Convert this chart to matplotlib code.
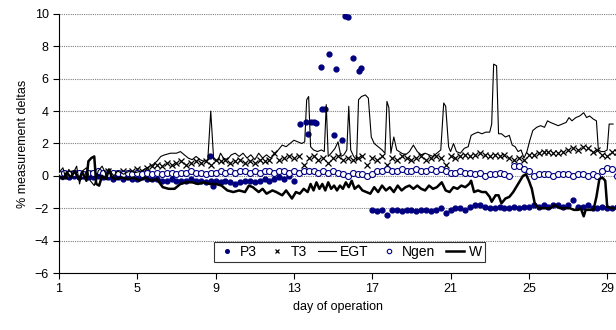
import matplotlib
matplotlib.use("Agg")
import matplotlib.pyplot as plt
import numpy as np

plt.rcParams['font.family'] = ['Liberation Sans', 'DejaVu Sans']

# regular day grid for the marker series (every quarter day)
days_q = np.arange(1, 29.51, 0.25)

t3 = [0.1, 0.0, 0.2, 0.1, 0.2, 0.0, 0.1, 0.2, 0.1, 0.2, 0.3, 0.1, 0.2, 0.3, 0.2, 0.3,
      0.4, 0.3, 0.5, 0.6, 0.7, 0.6, 0.8, 0.7, 0.8, 0.9, 0.7, 0.8, 0.9, 0.8, 0.9, 0.7,
      1.0, 0.9, 1.0, 0.8, 0.9, 1.0, 0.8, 0.9, 0.8, 1.0, 0.9, 1.0, 1.4, 1.0, 1.1, 1.2,
      1.1, 1.2, 0.7, 1.1, 1.2, 1.0, 1.1, 0.8, 1.1, 1.2, 1.0, 1.1, 1.0, 1.1, 1.2, 0.7,
      1.1, 1.0, 1.2, 0.7, 1.1, 1.0, 1.2, 1.1, 1.0, 1.1, 1.2, 1.0, 1.1, 1.2, 1.1, 0.7,
      1.2, 1.1, 1.2, 1.3, 1.2, 1.3, 1.4, 1.3, 1.2, 1.3, 1.2, 1.3, 1.1, 1.0, 1.1, 1.0,
      1.3, 1.3, 1.4, 1.5, 1.5, 1.4, 1.4, 1.5, 1.6, 1.7, 1.6, 1.8, 1.7, 1.5, 1.6, 1.3,
      1.2, 1.5, 1.5]

ngen = [0.1, 0.2, 0.1, 0.2, 0.2, 0.1, 0.2, 0.2, 0.3, 0.2, 0.1, 0.2, 0.2, 0.1, 0.2, 0.1,
        0.2, 0.1, 0.2, 0.1, 0.2, 0.1, 0.2, 0.2, 0.1, 0.2, 0.2, 0.3, 0.2, 0.2, 0.1, 0.2,
        0.2, 0.3, 0.2, 0.3, 0.2, 0.3, 0.3, 0.2, 0.3, 0.2, 0.3, 0.3, 0.2, 0.3, 0.3, 0.2,
        0.3, 0.2, 0.3, 0.3, 0.3, 0.2, 0.3, 0.2, 0.3, 0.2, 0.1, 0.0, 0.2, 0.1, 0.1, 0.0,
        0.1, 0.3, 0.3, 0.4, 0.3, 0.3, 0.4, 0.3, 0.3, 0.4, 0.3, 0.3, 0.4, 0.3, 0.4, 0.3,
        0.2, 0.2, 0.3, 0.2, 0.2, 0.1, 0.2, 0.0, 0.1, 0.1, 0.2, 0.1, 0.0, 0.6, 0.6, 0.4,
        0.3, 0.0, 0.1, 0.1, 0.1, 0.0, 0.1, 0.1, 0.1, 0.0, 0.1, 0.1, 0.0, 0.1, 0.0, 0.3,
        0.5, 0.4, 0.0]

# P3: early part (day 1-13), scattered high values, late part (day 17-29.5)
p3_early = [0.0, 0.0, -0.1, 0.0, -0.1, 0.0, -0.1, -0.1, 0.0, -0.1, -0.1, -0.2, -0.1, -0.2, -0.1, -0.2,
            -0.2, -0.1, -0.2, -0.2, -0.2, -0.3, -0.3, -0.2, -0.3, -0.3, -0.3, -0.2, -0.3, -0.3, -0.4, -0.3,
            -0.3, -0.4, -0.3, -0.4, -0.5, -0.4, -0.3, -0.3, -0.4, -0.3, -0.2, -0.3, -0.2, -0.1, -0.2, 0.0, -0.3]
p3_mid_x = [8.7, 8.85, 13.3, 13.6, 13.7, 13.85, 14.0, 14.15, 14.45, 14.6, 14.4, 14.8, 15.05,
            15.15, 15.45, 15.6, 15.75, 16.0, 16.3, 16.4]
p3_mid_y = [1.2, -0.6, 3.2, 3.3, 2.6, 3.3, 3.35, 3.25, 4.1, 4.1, 6.7, 7.5, 2.5,
            6.6, 2.2, 9.9, 9.8, 7.3, 6.5, 6.65]
p3_late = [-2.1, -2.2, -2.1, -2.4, -2.1, -2.1, -2.2, -2.1, -2.1, -2.2, -2.1, -2.1, -2.2, -2.1, -2.0, -2.3,
           -2.1, -2.0, -2.0, -2.1, -1.9, -1.8, -1.8, -1.9, -2.0, -2.0, -1.9, -2.0, -2.0, -1.9, -2.0, -1.9,
           -1.9, -1.8, -1.9, -1.8, -1.9, -1.8, -1.8, -1.9, -1.8, -1.5, -1.9, -1.9, -1.8, -2.0, -2.0, -1.9,
           -2.0, -2.0, -1.9]

egt_x = [1.0, 1.2, 1.35, 1.5, 1.7, 1.9, 2.05, 2.2, 2.4, 2.6, 2.8, 3.0, 3.2, 3.4, 3.6, 3.8, 4.0, 4.3,
         4.6, 4.9, 5.2, 5.5, 5.8, 6.0, 6.2, 6.4, 6.7, 7.0, 7.2, 7.4, 7.6, 7.8, 8.0, 8.2, 8.4, 8.6,
         8.75, 8.9, 9.1, 9.25, 9.4, 9.6, 9.8, 10.0, 10.2, 10.4, 10.6, 10.8, 11.0, 11.2, 11.4, 11.6,
         11.8, 12.0, 12.2, 12.4, 12.6, 12.8, 13.0, 13.2, 13.4, 13.55, 13.65, 13.75, 13.85, 14.0,
         14.2, 14.4, 14.55, 14.65, 14.75, 14.9, 15.1, 15.25, 15.4, 15.55, 15.7, 15.8, 15.9, 16.05,
         16.2, 16.3, 16.45, 16.65, 16.8, 16.95, 17.1, 17.3, 17.5, 17.65, 17.75, 17.85, 17.95, 18.1,
         18.25, 18.5, 18.7, 18.9, 19.1, 19.3, 19.5, 19.7, 19.9, 20.1, 20.3, 20.5, 20.65, 20.75,
         20.9, 21.0, 21.15, 21.3, 21.5, 21.7, 21.9, 22.05, 22.2, 22.4, 22.6, 22.8, 23.0, 23.1,
         23.2, 23.35, 23.45, 23.6, 23.8, 24.0, 24.15, 24.3, 24.45, 24.6, 24.75, 24.9, 25.05, 25.2,
         25.4, 25.6, 25.8, 25.95, 26.1, 26.3, 26.5, 26.7, 26.9, 27.05, 27.2, 27.4, 27.6, 27.8,
         27.95, 28.1, 28.3, 28.45, 28.55, 28.7, 28.85, 29.0, 29.1, 29.3]
egt_y = [0.2, 0.5, -0.2, 0.4, 0.1, 0.6, -0.5, 0.3, 0.5, -0.3, -0.6, 0.3, 0.6, 0.1, 0.3, 0.0, 0.3, 0.1,
         0.3, 0.2, 0.3, 0.5, 0.7, 0.9, 1.2, 1.3, 1.4, 1.4, 1.5, 1.3, 1.1, 1.0, 1.2, 1.0, 0.9, 1.0,
         4.0, 1.0, 0.9, 1.4, 1.1, 1.0, 1.3, 1.4, 1.2, 1.4, 1.1, 1.3, 1.0, 1.4, 1.1, 1.3,
         1.1, 1.3, 1.6, 1.9, 1.8, 2.0, 2.2, 2.1, 2.0, 2.1, 4.7, 4.9, 1.8, 1.6,
         1.5, 1.6, 1.5, 4.4, 1.2, 1.4, 1.7, 2.1, 1.2, 1.3, 1.6, 4.3, 1.6, 1.2,
         1.0, 4.7, 4.9, 5.0, 4.8, 2.4, 2.0, 1.8, 1.6, 1.4, 4.6, 4.2, 1.4, 2.4,
         1.6, 1.4, 1.3, 1.5, 1.9, 1.5, 1.3, 1.4, 1.3, 1.2, 1.4, 1.6, 4.5, 4.3,
         1.8, 1.5, 2.0, 1.5, 1.4, 1.7, 1.8, 2.5, 2.6, 2.7, 2.6, 2.7, 2.7, 3.2,
         6.9, 6.8, 2.6, 2.6, 2.4, 2.5, 1.9, 1.8, 1.5, 1.6, 1.1, 1.5, 2.2, 2.8,
         3.0, 3.1, 3.0, 3.4, 3.3, 3.2, 3.1, 3.2, 3.3, 3.6, 3.4, 3.6, 3.7, 3.9,
         3.6, 3.7, 3.5, 3.4, 1.6, 1.5, 1.5, 1.6, 3.2, 3.2]

w_x = [1.0, 1.2, 1.4, 1.6, 1.8, 2.0, 2.2, 2.4, 2.5, 2.65, 2.8, 2.9, 3.05, 3.2, 3.4, 3.55, 3.7, 3.9,
       4.2, 4.5, 4.8, 5.1, 5.4, 5.7, 6.0, 6.3, 6.6, 6.9, 7.2, 7.5, 7.8, 8.1, 8.4, 8.7, 9.0, 9.3,
       9.6, 9.9, 10.2, 10.5, 10.7, 10.9, 11.2, 11.4, 11.6, 11.9, 12.1, 12.4, 12.6, 12.9, 13.1,
       13.3, 13.5, 13.7, 13.85, 14.0, 14.15, 14.3, 14.45, 14.6, 14.75, 14.9, 15.05, 15.2, 15.35,
       15.5, 15.65, 15.8, 15.95, 16.1, 16.3, 16.5, 16.7, 16.9, 17.1, 17.3, 17.5, 17.7, 17.9,
       18.1, 18.3, 18.5, 18.7, 18.9, 19.1, 19.3, 19.5, 19.7, 19.9, 20.1, 20.3, 20.55, 20.75,
       20.95, 21.15, 21.35, 21.55, 21.75, 21.95, 22.05, 22.2, 22.4, 22.6, 22.8, 23.0, 23.1,
       23.3, 23.45, 23.6, 23.8, 24.0, 24.2, 24.4, 24.55, 24.7, 24.85, 25.0, 25.15, 25.3, 25.5,
       25.8, 26.1, 26.3, 26.6, 26.9, 27.1, 27.3, 27.5, 27.65, 27.8, 27.9, 28.1, 28.3, 28.45,
       28.6, 28.75, 28.9, 29.0, 29.2, 29.35]
w_y = [0.0, -0.2, 0.2, -0.1, 0.3, -0.2, 0.2, -0.3, 0.9, 1.1, 1.2, -0.5, -0.6, 0.0, -0.2, 0.4, -0.1, -0.2,
       -0.1, -0.2, -0.1, -0.3, -0.1, -0.3, -0.2, -0.7, -0.8, -0.8, -0.5, -0.4, -0.4, -0.5, -0.4, -0.5, -0.5, -0.6,
       -0.9, -1.0, -0.9, -1.0, -0.6, -0.7, -1.0, -0.8, -1.1, -0.9, -1.0, -1.2, -0.9, -1.4, -1.0,
       -1.1, -0.8, -1.0, -0.5, -0.9, -0.4, -0.8, -0.5, -0.9, -0.4, -0.8, -0.6, -0.9, -0.6,
       -0.8, -0.4, -0.7, -0.3, -0.8, -0.6, -0.9, -1.0, -1.1, -0.7, -1.0, -0.6, -0.9, -0.7,
       -1.0, -0.6, -0.9, -0.7, -0.6, -0.8, -0.6, -0.8, -0.9, -0.6, -0.8, -0.7, -0.4, -0.9,
       -1.0, -0.7, -0.8, -0.6, -0.7, -0.5, -0.3, -1.0, -0.9, -1.0, -1.0, -1.3, -1.6,
       -1.2, -1.2, -1.7, -1.4, -1.3, -1.0, -0.6, -0.3, 0.0, 0.1, -0.3, -0.8, -1.7, -2.0,
       -2.0, -2.0, -1.8, -2.0, -2.0, -2.0, -2.1, -2.1, -2.0, -2.5, -2.1, -2.1, -2.1, -1.3,
       -0.2, -0.1, -0.3, -1.9, -2.0, -2.0]

navy = '#000080'

fig = plt.figure(figsize=(6.16, 3.3), dpi=100)
ax = fig.add_axes([0.0958, 0.1727, 0.9042, 0.785])

p3_x = np.concatenate([days_q[:49], p3_mid_x, days_q[64:]])
p3_y = np.concatenate([p3_early, p3_mid_y, p3_late])
ax.plot(p3_x, p3_y, ls='none', marker='o', ms=3.5, color=navy, mec=navy, label='P3', zorder=3)
ax.plot(days_q, t3, ls='none', marker='x', ms=4, mew=0.9, color='black', label='T3', zorder=3)
ax.plot(egt_x, egt_y, color='black', lw=0.8, label='EGT', zorder=4)
ax.plot(days_q, ngen, ls='none', marker='o', ms=4.3, mfc='white', mec=navy, mew=0.8,
        label='Ngen', zorder=3)
ax.plot(w_x, w_y, color='black', lw=1.8, label='W', zorder=4)

ax.set_xlim(1, 29.45)
ax.set_ylim(-6, 10)
ax.set_xticks([1, 5, 9, 13, 17, 21, 25, 29])
ax.set_yticks(range(-6, 11, 2))
ax.yaxis.grid(True, color='#808080', ls=(0, (1, 1)), lw=0.8)
ax.set_axisbelow(True)
for s in ['top', 'right']:
    ax.spines[s].set_visible(False)
ax.tick_params(direction='out', length=4, labelsize=9, width=0.8)
ax.set_xlabel('day of operation', fontsize=9)
ax.set_ylabel('% measurement deltas', fontsize=9)

leg = ax.legend(ncol=5, loc='center', bbox_to_anchor=(0.522, 0.081), frameon=True,
                fancybox=False, edgecolor='black', fontsize=10, handlelength=1.3,
                handletextpad=0.3, columnspacing=0.8, borderpad=0.25, borderaxespad=0,
                markerscale=0.75)
leg.get_frame().set_linewidth(0.8)

fig.savefig('out.png', dpi=100)
